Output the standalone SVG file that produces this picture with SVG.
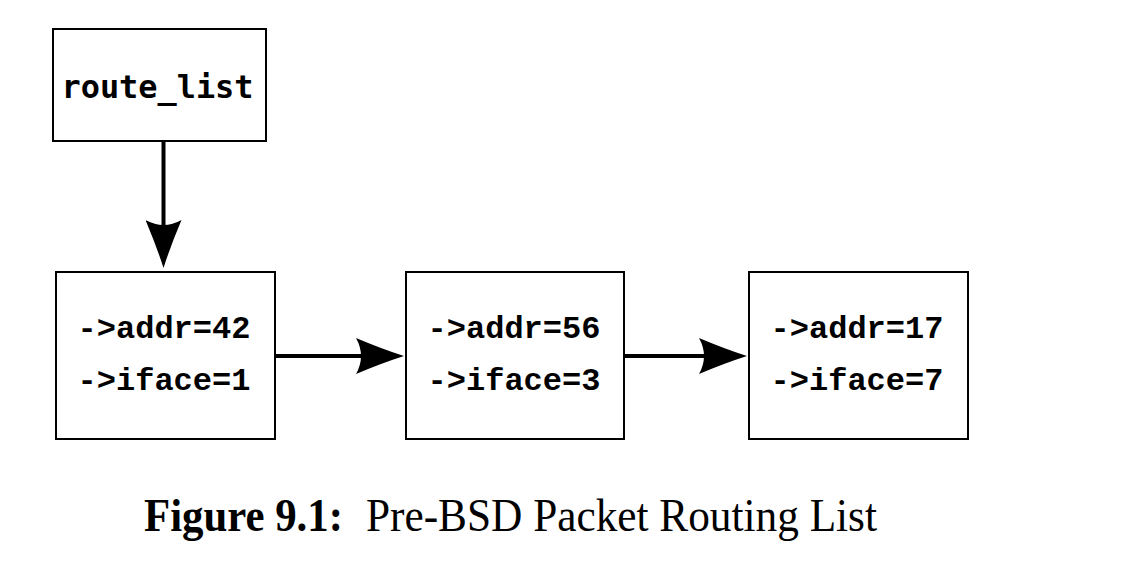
<svg xmlns="http://www.w3.org/2000/svg" width="1130" height="565" viewBox="0 0 1130 565">
  <style>
    .box { fill: #ffffff; stroke: #000000; stroke-width: 2; }
    .mono { font-family: "Liberation Mono", "DejaVu Sans Mono", monospace; font-weight: bold; font-size: 31px; fill: #000; }
    .head { font-family: "DejaVu Sans Mono", "Liberation Mono", monospace; font-weight: bold; font-size: 32px; fill: #000; }
    .edge { stroke: #000; stroke-width: 4; fill: none; marker-end: url(#arr); }
    .cap { font-family: "Liberation Serif", "Times New Roman", serif; font-size: 46px; fill: #000; }
  </style>
  <defs>
    <marker id="arr" viewBox="0 0 48 36" refX="8" refY="18" markerWidth="48" markerHeight="36" markerUnits="userSpaceOnUse" orient="auto">
      <path d="M0,0 Q26,11 48,18 Q26,25 0,36 Q10,18 0,0 Z" fill="#000"/>
    </marker>
  </defs>
  <rect width="1130" height="565" fill="#ffffff"/>

  <g id="connectors">
    <line class="edge" x1="163.5" y1="142" x2="163.5" y2="228"/>
    <line class="edge" x1="276" y1="356" x2="364" y2="356"/>
    <line class="edge" x1="625" y1="356" x2="707" y2="356"/>
  </g>

  <g id="route_list">
    <rect class="box" x="53" y="29" width="213" height="112"/>
    <text class="head" x="157.5" y="98" text-anchor="middle" textLength="192" lengthAdjust="spacingAndGlyphs">route_list</text>
  </g>

  <g id="node1">
    <rect class="box" x="56" y="272" width="219" height="167"/>
    <text class="mono" x="164" y="338" text-anchor="middle" textLength="173" lengthAdjust="spacingAndGlyphs">-&gt;addr=42</text>
    <text class="mono" x="164" y="390" text-anchor="middle" textLength="173" lengthAdjust="spacingAndGlyphs">-&gt;iface=1</text>
  </g>

  <g id="node2">
    <rect class="box" x="406" y="272" width="218" height="167"/>
    <text class="mono" x="514" y="338" text-anchor="middle" textLength="173" lengthAdjust="spacingAndGlyphs">-&gt;addr=56</text>
    <text class="mono" x="514" y="390" text-anchor="middle" textLength="173" lengthAdjust="spacingAndGlyphs">-&gt;iface=3</text>
  </g>

  <g id="node3">
    <rect class="box" x="749" y="272" width="219" height="167"/>
    <text class="mono" x="857" y="338" text-anchor="middle" textLength="173" lengthAdjust="spacingAndGlyphs">-&gt;addr=17</text>
    <text class="mono" x="857" y="390" text-anchor="middle" textLength="173" lengthAdjust="spacingAndGlyphs">-&gt;iface=7</text>
  </g>

  <g id="caption">
    <text class="cap" x="144" y="531" font-weight="bold" textLength="199" lengthAdjust="spacingAndGlyphs">Figure 9.1:</text>
    <text class="cap" x="366" y="531" textLength="511" lengthAdjust="spacingAndGlyphs">Pre-BSD Packet Routing List</text>
  </g>
</svg>
